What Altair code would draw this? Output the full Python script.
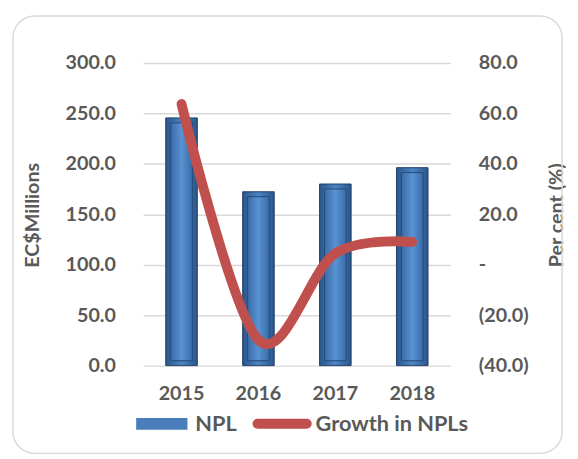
import altair as alt
import pandas as pd

years = ["2015", "2016", "2017", "2018"]
npl = [245.5, 172.3, 180.0, 196.2]
growth = [63.7, -29.8, 4.5, 9.0]
left_ticks = [0, 50, 100, 150, 200, 250, 300]
right_ticks = [-40, -20, 0, 20, 40, 60, 80]
series = ["NPL", "Growth in NPLs"]

df = pd.DataFrame({"year": years, "npl": npl, "growth": growth})

FONT = "Lato"
TXT = "#595959"
FS = 20
W, H = 312, 307

rect_path = "M-0.867,-0.2H0.867V0.2H-0.867Z"
pill_path = ("M-0.833,-0.167H0.833A0.167,0.167 0 0 1 0.833,0.167"
             "H-0.833A0.167,0.167 0 0 1 -0.833,-0.167Z")

grad_outer = alt.Gradient(
    gradient="linear", x1=0, x2=1, y1=0, y2=0,
    stops=[alt.GradientStop(color="#2B5689", offset=0),
           alt.GradientStop(color="#4D84C4", offset=0.5),
           alt.GradientStop(color="#2B5689", offset=1)])
grad_inner = alt.Gradient(
    gradient="linear", x1=0, x2=1, y1=0, y2=0,
    stops=[alt.GradientStop(color="#3A6BA8", offset=0),
           alt.GradientStop(color="#5A92D2", offset=0.5),
           alt.GradientStop(color="#3A6BA8", offset=1)])

x_enc = alt.X("year:N", scale=alt.Scale(paddingInner=0, paddingOuter=0),
              axis=alt.Axis(title=None, labelAngle=0, labelFont=FONT, labelFontSize=FS,
                            labelFontWeight="bold", labelColor=TXT, labelPadding=18,
                            ticks=False, domain=False, grid=False))

left_axis = alt.Axis(values=left_ticks, format=".1f", grid=True, gridColor="#D9D9D9",
                     gridWidth=1.5, domain=False, ticks=False, tickSize=0, labelPadding=28,
                     labelFont=FONT, labelFontSize=FS, labelFontWeight="bold", labelColor=TXT,
                     title="EC$Millions", titleAngle=270, titleX=-112, titleY=154,
                     titleAlign="center", titleBaseline="middle", titleFont=FONT,
                     titleFontSize=FS, titleFontWeight="bold", titleColor=TXT)

right_axis = alt.Axis(orient="right", values=right_ticks, grid=False, domain=False, ticks=False,
                      tickSize=0, labelPadding=28,
                      labelExpr="datum.value == 0 ? '-' : (datum.value < 0 ? '(' + format(-datum.value, '.1f') + ')' : format(datum.value, '.1f'))",
                      labelFont=FONT, labelFontSize=FS, labelFontWeight="bold", labelColor=TXT,
                      title="Per cent (%)", titleAngle=270, titleX=107, titleY=154,
                      titleAlign="center", titleBaseline="middle", titleFont=FONT,
                      titleFontSize=FS, titleFontWeight="bold", titleColor=TXT)

base = alt.Chart(df)

border = alt.Chart(alt.Data(values=[{}])).mark_rect(
    fill="transparent", stroke="#D9D9D9", strokeWidth=1.5, cornerRadius=22
).encode(x=alt.value(-132), x2=alt.value(425), y=alt.value(-47.5), y2=alt.value(396))

outer = base.mark_bar(size=32, fill=grad_outer, stroke="#1F3F6A", strokeWidth=1).encode(
    x=x_enc, y=alt.Y("npl:Q", scale=alt.Scale(domain=[0, 300]), axis=left_axis))

inner = base.mark_bar(size=22, fill=grad_inner, stroke="#254B7C", strokeWidth=1,
                      yOffset=5, y2Offset=-5).encode(
    x=x_enc, y=alt.Y("npl:Q", scale=alt.Scale(domain=[0, 300]), axis=None), y2=alt.datum(0))

line = base.mark_line(color="#C0504D", strokeWidth=10, strokeCap="round", strokeJoin="round",
                      interpolate="cardinal").encode(
    x=x_enc, y=alt.Y("growth:Q", scale=alt.Scale(domain=[-40, 80]), axis=right_axis))

leg_def = alt.Legend(title=None, orient="none", legendX=-11, legendY=336, direction="horizontal",
                     symbolSize=3600, symbolStrokeWidth=0, symbolOpacity=1,
                     labelFont=FONT, labelFontSize=22, labelFontWeight="bold", labelColor=TXT,
                     labelOffset=4, columnPadding=16)

leg = alt.Chart(pd.DataFrame({"s": series})).transform_filter("false").mark_point(
    filled=True, opacity=1).encode(
    color=alt.Color("s:N", scale=alt.Scale(domain=series, range=["#4A7EBB", "#C0504D"]), legend=leg_def),
    shape=alt.Shape("s:N", scale=alt.Scale(domain=series, range=[rect_path, pill_path]), legend=leg_def))

chart = alt.layer(border, outer, inner, line, leg).resolve_scale(y="independent").properties(
    width=W, height=H,
    autosize=alt.AutoSizeParams(type="none"),
    padding={"left": 137, "top": 52.5, "right": 121, "bottom": 92},
    background="white",
).configure(font=FONT).configure_view(stroke="transparent", strokeWidth=0)

chart.save("out.html", embed_options={"renderer": "svg", "actions": False})
